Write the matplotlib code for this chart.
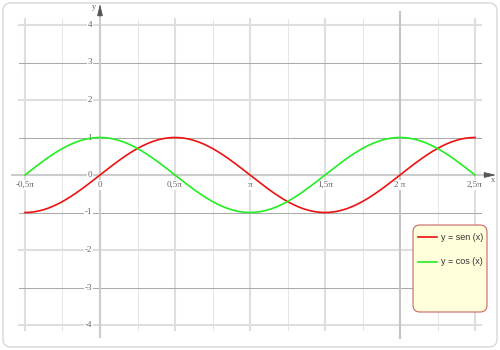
import numpy as np
import matplotlib.pyplot as plt
from matplotlib.patches import FancyBboxPatch
from matplotlib.transforms import IdentityTransform

# domain of the two curves (radians)
x_start = -0.5 * np.pi
x_end = 2.5 * np.pi

series_names = ['y = sen (x)', 'y = cos (x)']
series_funcs = [np.sin, np.cos]
series_colors = ['#ee1111', '#22ee22']

x_ticks = [-0.5 * np.pi, 0, 0.5 * np.pi, np.pi, 1.5 * np.pi, 2 * np.pi, 2.5 * np.pi]
x_tick_labels = ['-0,5π', '0', '0,5π', 'π', '1,5π', '2 π', '2,5π']
x_minor = [-0.25 * np.pi, 0.25 * np.pi, 0.75 * np.pi, 1.25 * np.pi, 1.75 * np.pi, 2.25 * np.pi]
y_ticks = [-4, -3, -2, -1, 0, 1, 2, 3, 4]
y_tick_labels = ['-4', '-3', '-2', '-1', '0', '1', '2', '3', '4']

W, H = 500, 350
fig = plt.figure(figsize=(W / 100, H / 100), dpi=100)
ax = fig.add_axes([0, 0, 1, 1])
ax.set_xlim(-2 / 3 * np.pi, 8 / 3 * np.pi)
ax.set_ylim(-14 / 3, 14 / 3)
ax.set_autoscale_on(False)
ax.axis('off')

# pixel helpers (pixel origin top-left)
px_x = np.pi / 150
px_y = 1 / 37.5


def px2x(px):
    return (px - 100) * px_x


def py2y(py):
    return (175 - py) * px_y


serif = ['Liberation Serif', 'DejaVu Serif']
sans = ['Liberation Sans', 'DejaVu Sans']

# outer frame
ax.add_patch(FancyBboxPatch((3, 3), W - 6, H - 6, boxstyle='round,pad=0,rounding_size=8',
                            transform=IdentityTransform(), facecolor='white',
                            edgecolor='#d8d8d8', lw=1, zorder=0))

# grid
gx0, gx1 = x_start - 6 * px_x, x_end + 6 * px_x
gy0, gy1 = -4 - 5 * px_y, 4 + 6 * px_y
for xv in x_minor:
    ax.plot([xv, xv], [gy0, gy1], color='#e6e6e6', lw=0.75, zorder=1)
for xv in x_ticks:
    if xv == 0:
        continue
    if np.isclose(xv, 2 * np.pi):
        ax.plot([xv, xv], [py2y(338), py2y(12)], color='#c4c4c4', lw=1.5, zorder=1.5)
    else:
        ax.plot([xv, xv], [gy0, gy1], color='#dedede', lw=1.5, zorder=1)
for yv in y_ticks:
    if yv == 0:
        continue
    if yv % 2 == 0:
        ax.plot([gx0, gx1], [yv, yv], color='#dedede', lw=1.5, zorder=1.2)
    else:
        ax.plot([gx0, gx1], [yv, yv], color='#aaaaaa', lw=0.75, zorder=1.2)

# axes with arrows
ax.plot([px2x(12), px2x(488)], [0, 0], color='#cccccc', lw=1.5, zorder=2)
ax.plot([0, 0], [py2y(337), py2y(12)], color='#cccccc', lw=1.5, zorder=2)
arrow = dict(arrowstyle='-|>,head_length=0.9,head_width=0.22', color='#555555',
             lw=0.6, mutation_scale=8, shrinkA=0, shrinkB=0)
ax.annotate('', xy=(0, py2y(4)), xytext=(0, py2y(16)), arrowprops=arrow, zorder=3)
ax.annotate('', xy=(px2x(496), 0), xytext=(px2x(484), 0), arrowprops=arrow, zorder=3)
ax.text(px2x(94), py2y(7), 'y', fontsize=6, color='#666666', family=serif,
        ha='center', va='center', zorder=3)
ax.text(px2x(493), py2y(180), 'x', fontsize=6, color='#666666', family=serif,
        ha='center', va='center', zorder=3)

# tick labels
lbl_box = dict(facecolor='white', edgecolor='none', pad=0.6)
for xv, lab in zip(x_ticks, x_tick_labels):
    ax.text(xv, py2y(185), lab, fontsize=6.5, color='#666666', family=serif,
            ha='center', va='center', bbox=lbl_box, zorder=4)
for yv, lab in zip(y_ticks, y_tick_labels):
    ax.text(px2x(92), yv, lab, fontsize=6.5, color='#666666', family=serif,
            ha='right', va='center', bbox=lbl_box, zorder=4)

# curves
xs = np.linspace(x_start, x_end, 600)
for func, color in zip(series_funcs, series_colors):
    ax.plot(xs, func(xs), color=color, lw=1.2, zorder=5)

# legend box
ax.add_patch(FancyBboxPatch((413, H - 312), 74, 87, boxstyle='round,pad=0,rounding_size=7',
                            transform=IdentityTransform(), facecolor='#ffffdc',
                            edgecolor='#cc6666', lw=0.8, zorder=6))
for i, (name, color) in enumerate(zip(series_names, series_colors)):
    py = 237 + 25 * i
    ax.plot([px2x(418), px2x(437)], [py2y(py), py2y(py)], color=color, lw=1.2, zorder=7)
    ax.text(px2x(441), py2y(py), name, fontsize=6.5, color='#333333', family=sans,
            ha='left', va='center', zorder=7)

fig.savefig('out.png', dpi=100)
